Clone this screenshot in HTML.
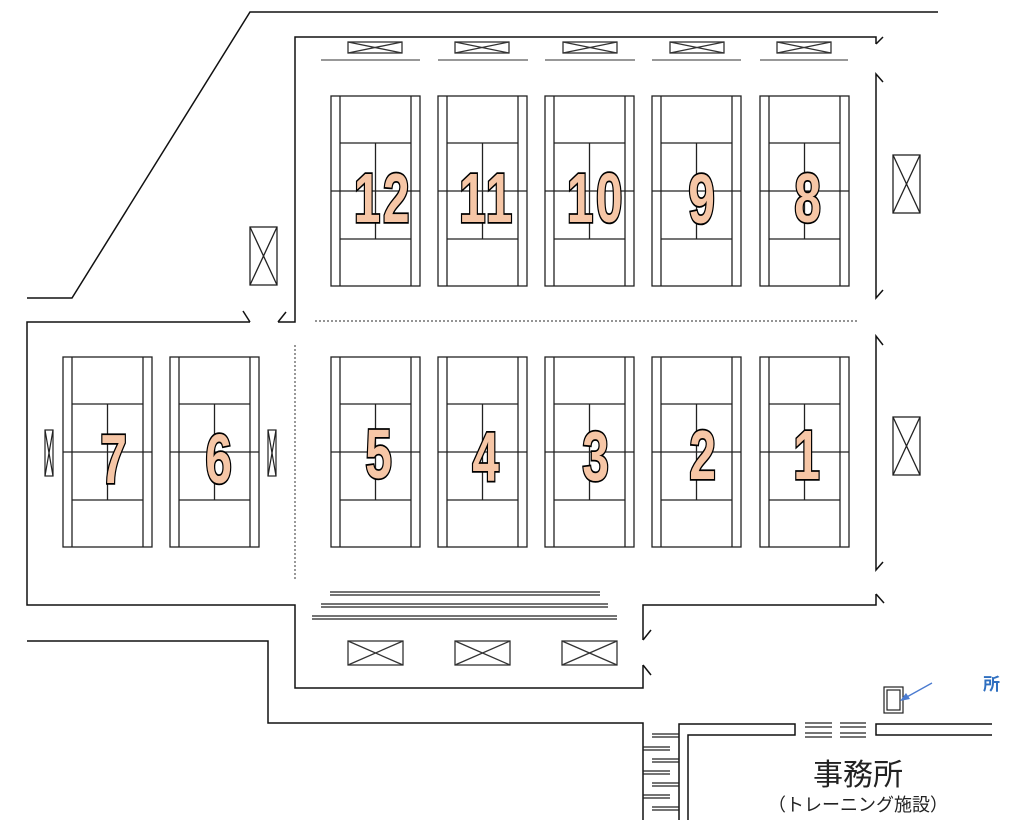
<!DOCTYPE html>
<html><head><meta charset="utf-8"><style>
html,body{margin:0;padding:0;background:#fff;width:1024px;height:837px;overflow:hidden}
svg{display:block}
.n{font-family:"Liberation Sans",sans-serif;font-weight:bold;font-size:70px;fill:#f6c6a6;stroke:#000;stroke-width:3.5;paint-order:stroke;text-anchor:middle;letter-spacing:4px}
</style></head><body>
<svg width="1024" height="837" viewBox="0 0 1024 837" xmlns="http://www.w3.org/2000/svg">
<defs>
<g id="ct" fill="none" stroke="#222" stroke-width="1.3">
<rect x="0" y="0" width="89" height="190"/>
<line x1="9" y1="0" x2="9" y2="190"/><line x1="80" y1="0" x2="80" y2="190"/>
<line x1="9" y1="47" x2="80" y2="47"/><line x1="9" y1="143" x2="80" y2="143"/>
<line x1="0" y1="95" x2="89" y2="95"/><line x1="44.5" y1="47" x2="44.5" y2="143"/>
</g>
<g id="bx" fill="none" stroke="#333" stroke-width="1.3">
<rect x="0" y="0" width="54" height="11"/><line x1="0" y1="0" x2="54" y2="11"/><line x1="0" y1="11" x2="54" y2="0"/>
</g>
<g id="bx2" fill="none" stroke="#333" stroke-width="1.3">
<rect x="0" y="0" width="55" height="24"/><line x1="0" y1="0" x2="55" y2="24"/><line x1="0" y1="24" x2="55" y2="0"/>
</g>
<g id="bv" fill="none" stroke="#222" stroke-width="1.3">
<rect x="0" y="0" width="27" height="58"/><line x1="0" y1="0" x2="27" y2="58"/><line x1="0" y1="58" x2="27" y2="0"/>
</g>
</defs>
<g fill="none" stroke="#111" stroke-width="1.5">
<polyline points="938,12 250,12 72,298 27,298"/>
<polyline points="250,322 27,322 27,605 295,605 295,688 643,688 643,665"/>
<line x1="643" y1="665" x2="651" y2="675"/>
<polyline points="643,640 643,605 876,605 876,594"/>
<line x1="643" y1="640" x2="651" y2="630"/>
<line x1="876" y1="594" x2="884" y2="603"/>
<line x1="250" y1="322" x2="243" y2="311"/>
<polyline points="278,322 295,322 295,37 876,37 876,44"/>
<line x1="278" y1="322" x2="286" y2="312"/>
<line x1="876" y1="44" x2="883" y2="37"/>
<polyline points="883,82 876,74 876,298 883,290"/>
<polyline points="883,345 876,336 876,570 883,562"/>
<polyline points="27,641 268,641 268,723 643,723 643,820"/>
<polyline points="679,820 679,724 795,724 795,735 688,735 688,820"/>
<polyline points="992,724 876,724 876,735 992,735"/>
</g>
<g stroke="#222" stroke-width="1.2">
<line x1="805" y1="723" x2="832" y2="723"/><line x1="805" y1="727" x2="832" y2="727"/>
<line x1="840" y1="723" x2="866" y2="723"/><line x1="840" y1="727" x2="866" y2="727"/>
<line x1="805" y1="733" x2="832" y2="733"/><line x1="805" y1="737" x2="832" y2="737"/>
<line x1="840" y1="733" x2="866" y2="733"/><line x1="840" y1="737" x2="866" y2="737"/>
<line x1="652" y1="734" x2="679" y2="734"/><line x1="652" y1="737" x2="679" y2="737"/>
<line x1="643" y1="747" x2="670" y2="747"/><line x1="643" y1="750" x2="670" y2="750"/>
<line x1="652" y1="759" x2="679" y2="759"/><line x1="652" y1="762" x2="679" y2="762"/>
<line x1="643" y1="771" x2="670" y2="771"/><line x1="643" y1="774" x2="670" y2="774"/>
<line x1="652" y1="783" x2="679" y2="783"/><line x1="652" y1="786" x2="679" y2="786"/>
<line x1="643" y1="795" x2="670" y2="795"/><line x1="643" y1="798" x2="670" y2="798"/>
<line x1="652" y1="807" x2="679" y2="807"/><line x1="652" y1="810" x2="679" y2="810"/>
<line x1="330" y1="592" x2="600" y2="592"/><line x1="330" y1="595" x2="600" y2="595"/>
<line x1="321" y1="604" x2="608" y2="604"/><line x1="321" y1="607" x2="608" y2="607"/>
<line x1="312" y1="616" x2="617" y2="616"/><line x1="312" y1="619" x2="617" y2="619"/>
</g>
<g stroke="#777" stroke-width="1.5">
<line x1="321" y1="60" x2="420" y2="60"/><line x1="438" y1="60" x2="528" y2="60"/>
<line x1="545" y1="60" x2="635" y2="60"/><line x1="652" y1="60" x2="741" y2="60"/>
<line x1="760" y1="60" x2="848" y2="60"/>
</g>
<g stroke="#555" stroke-width="1.2" stroke-dasharray="2,2">
<line x1="315" y1="321" x2="857" y2="321"/>
<line x1="295" y1="345" x2="295" y2="580"/>
</g>
<use href="#bx" x="348" y="42"/><use href="#bx" x="455" y="42"/><use href="#bx" x="563" y="42"/>
<use href="#bx" x="670" y="42"/><use href="#bx" x="777" y="42"/>
<use href="#bx2" x="348" y="641"/><use href="#bx2" x="455" y="641"/><use href="#bx2" x="562" y="641"/>
<use href="#bv" x="893" y="155"/><use href="#bv" x="893" y="417"/><use href="#bv" x="250" y="227"/>
<g fill="none" stroke="#222" stroke-width="1.2">
<rect x="45" y="430" width="8" height="46"/><line x1="45" y1="430" x2="53" y2="476"/><line x1="45" y1="476" x2="53" y2="430"/>
<rect x="268" y="430" width="8" height="46"/><line x1="268" y1="430" x2="276" y2="476"/><line x1="268" y1="476" x2="276" y2="430"/>
<rect x="884" y="687" width="19" height="26"/><rect x="887" y="690" width="13" height="20"/>
</g>
<line x1="932" y1="683" x2="905" y2="698" stroke="#4a7bd0" stroke-width="1.3"/>
<polygon points="900,701 906,693 910,699" fill="#4a7bd0"/>
<text x="983" y="690" font-family="'Liberation Sans','Noto Sans CJK JP',sans-serif" font-size="17" font-weight="bold" fill="#2f6fc0">所</text>
<use href="#ct" x="331" y="96"/><use href="#ct" x="438" y="96"/><use href="#ct" x="545" y="96"/>
<use href="#ct" x="652" y="96"/><use href="#ct" x="760" y="96"/>
<use href="#ct" x="331" y="357"/><use href="#ct" x="438" y="357"/><use href="#ct" x="545" y="357"/>
<use href="#ct" x="652" y="357"/><use href="#ct" x="760" y="357"/>
<use href="#ct" x="63" y="357"/><use href="#ct" x="170" y="357"/>
<g class="n">
<text transform="translate(383,222) scale(0.68,1)">12</text>
<text transform="translate(487,222) scale(0.68,1)">11</text>
<text transform="translate(596,222) scale(0.68,1)">10</text>
<text transform="translate(703,223) scale(0.68,1)">9</text>
<text transform="translate(809,222) scale(0.68,1)">8</text>
<text transform="translate(380,478) scale(0.68,1)">5</text>
<text transform="translate(487,481) scale(0.68,1)">4</text>
<text transform="translate(597,480) scale(0.68,1)">3</text>
<text transform="translate(704,479) scale(0.68,1)">2</text>
<text transform="translate(808,479) scale(0.68,1)">1</text>
<text transform="translate(115,483) scale(0.68,1)">7</text>
<text transform="translate(220,483) scale(0.68,1)">6</text>
</g>
<text x="858" y="785" text-anchor="middle" font-family="'Liberation Sans','Noto Sans CJK JP',sans-serif" font-size="30" fill="#222">事務所</text>
<text x="858" y="811" text-anchor="middle" font-family="'Liberation Sans','Noto Sans CJK JP',sans-serif" font-size="18" fill="#222">（トレーニング施設）</text>
</svg>
</body></html>
